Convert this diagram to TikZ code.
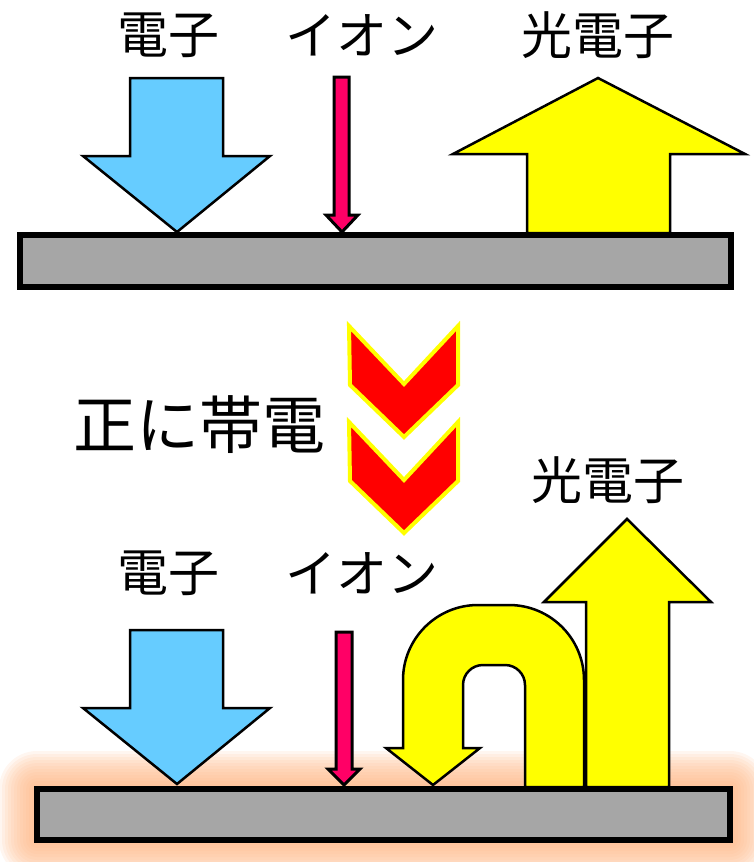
\documentclass[tikz,border=0pt]{standalone}
\usepackage{fontspec}
\newfontfamily\jpfont{Noto Sans CJK JP}
\definecolor{eblue}{HTML}{66CCFF}
\definecolor{ionpink}{HTML}{FF0066}
\definecolor{pyellow}{HTML}{FFFF00}
\definecolor{chevred}{HTML}{FF0000}
\definecolor{slabgray}{HTML}{A6A6A6}
\definecolor{glow}{RGB}{255,182,132}
\begin{document}
\begin{tikzpicture}[x=1pt,y=-1pt,
  lbl/.style={font=\jpfont\fontsize{51}{60}\selectfont, inner sep=0pt},
  biglbl/.style={font=\jpfont\fontsize{63}{72}\selectfont, inner sep=0pt},
  slab/.style={draw=black, fill=slabgray, line width=6pt},
  earrow/.style={draw=black, fill=eblue, line width=2.5pt, line join=miter},
  ionarrow/.style={draw=black, fill=ionpink, line width=3pt, line join=miter},
  yarrow/.style={draw=black, fill=pyellow, line width=2.5pt, line join=miter},
  chev/.style={draw=pyellow, fill=chevred, line width=4pt, line join=miter}]
\useasboundingbox (0,0) rectangle (754,862);

% ---------- top panel ----------
\node[lbl] (e1) at (168,35) {電子};
\node[lbl] (i1) at (362,35) {イオン};
\node[lbl] (p1) at (598,35) {光電子};

\draw[earrow] (130,78) -- (223,78) -- (223,156) -- (270,156) -- (177,232) -- (83,156) -- (130,156) -- cycle;
\draw[ionarrow] (334,77) -- (349,77) -- (349,215) -- (358,215) -- (342,232) -- (326,215) -- (334,215) -- cycle;
\draw[yarrow] (527,233) -- (527,154) -- (453,154) -- (598,78) -- (745,154) -- (670,154) -- (670,233) -- cycle;
\draw[slab] (20,235) rectangle (731,287);

% ---------- middle ----------
\node[biglbl] (pos) at (199,425) {正に帯電};
\draw[chev] (349,326) -- (404,384) -- (458,326) -- (458,385) -- (404,437) -- (350,385) -- cycle;
\draw[chev] (349,422) -- (404,480) -- (458,422) -- (458,481) -- (404,533) -- (350,481) -- cycle;

% ---------- bottom panel ----------
\begin{scope}
\clip (0,0) rectangle (754,862);
\foreach \d in {38,35,...,2}
  \fill[glow, opacity=0.12, rounded corners=\d pt] (37-\d,789-\d) rectangle (730+\d,840+\d);
\fill[glow] (37,789) rectangle (730,840);
\end{scope}

\node[lbl] (e2) at (168,573) {電子};
\node[lbl] (i2) at (362,573) {イオン};
\node[lbl] (p2) at (608,480) {光電子};

\draw[earrow] (130,630) -- (223,630) -- (223,708) -- (270,708) -- (177,784) -- (83,708) -- (130,708) -- cycle;
\draw[ionarrow] (336,632) -- (352,632) -- (352,769) -- (360,769) -- (344,785) -- (328,769) -- (336,769) -- cycle;
\draw[yarrow] (525,787) -- (525,685) arc[start angle=0, end angle=-90, radius=20]
  -- (483,665) arc[start angle=270, end angle=180, radius=20]
  -- (463,748) -- (480,748) -- (433,785) -- (386,748) -- (403,748)
  -- (403,680) arc[start angle=180, end angle=270, radius=75]
  -- (509,605) arc[start angle=270, end angle=360, radius=75]
  -- (584,787) -- cycle;
\draw[yarrow] (586,787) -- (586,602) -- (544,602) -- (627,519) -- (711,602) -- (669,602) -- (669,787) -- cycle;
\draw[slab] (37,789) rectangle (730,840);
\end{tikzpicture}
\end{document}
